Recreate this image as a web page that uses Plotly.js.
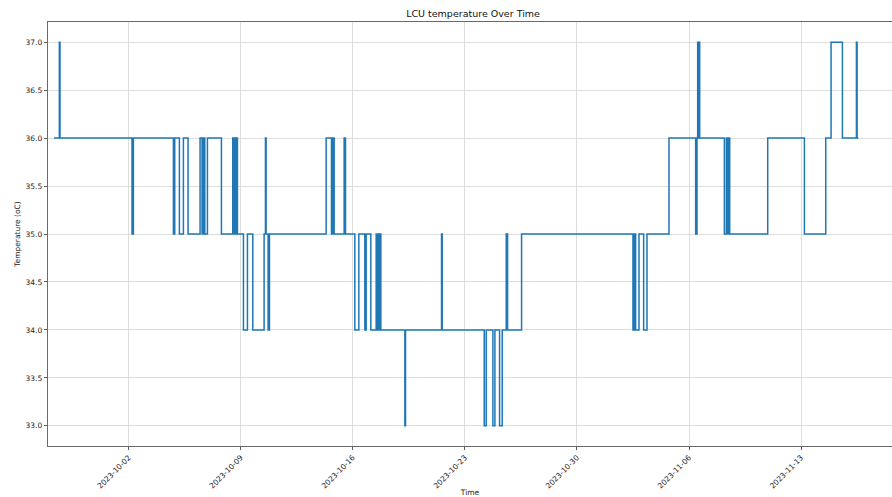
<!DOCTYPE html>
<html>
<head>
<meta charset="utf-8">
<script src="https://cdn.plot.ly/plotly-3.0.1.min.js"></script>
<style>html,body{margin:0;padding:0;background:#fff;}#chart{width:892px;height:497px;}</style>
</head>
<body>
<div id="chart"></div>
<script>
const times = [
'2023-09-27 08:00','2023-09-27 16:00','2023-09-27 17:00',
'2023-10-02 05:00','2023-10-02 07:00',
'2023-10-04 19:00','2023-10-04 21:00','2023-10-05 04:00','2023-10-05 10:00','2023-10-05 17:00',
'2023-10-06 11:00','2023-10-06 14:00','2023-10-06 16:00','2023-10-06 18:00','2023-10-06 22:00',
'2023-10-07 19:00',
'2023-10-08 12:00','2023-10-08 13:00','2023-10-08 14:00','2023-10-08 15:00','2023-10-08 16:00','2023-10-08 17:00','2023-10-08 18:00','2023-10-08 19:00',
'2023-10-09 04:00','2023-10-09 10:00','2023-10-09 18:00',
'2023-10-10 11:00','2023-10-10 13:00','2023-10-10 14:00','2023-10-10 17:00','2023-10-10 19:00',
'2023-10-14 08:00','2023-10-14 16:00','2023-10-14 17:00','2023-10-14 18:00','2023-10-14 19:00','2023-10-14 20:00',
'2023-10-15 11:00','2023-10-15 13:00',
'2023-10-16 03:00','2023-10-16 09:00','2023-10-16 18:00','2023-10-16 20:00',
'2023-10-17 03:00','2023-10-17 11:00','2023-10-17 12:00','2023-10-17 13:00','2023-10-17 14:00','2023-10-17 15:00','2023-10-17 16:00','2023-10-17 17:00','2023-10-17 18:00',
'2023-10-19 06:00','2023-10-19 07:00',
'2023-10-21 13:00','2023-10-21 14:00',
'2023-10-24 05:00','2023-10-24 08:00','2023-10-24 18:00','2023-10-24 21:00',
'2023-10-25 04:00','2023-10-25 08:00','2023-10-25 14:00','2023-10-25 16:00',
'2023-10-26 13:00',
'2023-11-02 12:00','2023-11-02 13:00','2023-11-02 14:00','2023-11-02 15:00','2023-11-02 16:00','2023-11-02 21:00',
'2023-11-03 04:00','2023-11-03 09:00',
'2023-11-04 18:00',
'2023-11-06 10:00','2023-11-06 12:00','2023-11-06 13:00','2023-11-06 14:00','2023-11-06 15:00','2023-11-06 16:00',
'2023-11-08 05:00','2023-11-08 08:00','2023-11-08 09:00','2023-11-08 10:00','2023-11-08 11:00','2023-11-08 12:00','2023-11-08 13:00',
'2023-11-10 22:00',
'2023-11-13 05:00',
'2023-11-14 13:00','2023-11-14 21:00',
'2023-11-15 14:00',
'2023-11-16 11:00','2023-11-16 12:00','2023-11-16 14:00'
];
const temps = [
36,37,36,
35,36,
35,36,35,36,35,
36,35,36,35,36,
35,
36,35,36,35,36,35,36,35,
34,35,34,
35,36,35,34,35,
36,35,36,35,36,35,
36,35,
34,35,34,35,
34,35,34,35,34,35,34,35,34,
33,34,
35,34,
33,34,33,34,
33,34,35,34,
35,
34,35,34,35,34,35,
34,35,
36,
35,36,37,36,37,36,
35,36,35,36,35,36,35,
36,
35,
36,37,
36,
37,36,36
];
const xTickVals = ['2023-10-02','2023-10-09','2023-10-16','2023-10-23','2023-10-30','2023-11-06','2023-11-13'];
const yTickVals = [33.0,33.5,34.0,34.5,35.0,35.5,36.0,36.5,37.0];
const yTickText = ['33.0','33.5','34.0','34.5','35.0','35.5','36.0','36.5','37.0'];

const trace = {
  x: times, y: temps, type: 'scatter', mode: 'lines',
  line: {color: '#1f77b4', width: 1.5, shape: 'hv'},
  hoverinfo: 'skip'
};
const font = {family: 'DejaVu Sans, sans-serif', color: '#222'};
const layout = {
  width: 892, height: 497,
  margin: {l: 48, r: 0, t: 22, b: 51, pad: 0},
  paper_bgcolor: '#fff', plot_bgcolor: '#fff',
  showlegend: false,
  font: font,
  title: {text: 'LCU temperature Over Time', font: {family: 'DejaVu Sans, sans-serif', size: 9.5, color: '#111'},
          x: 0.5303, xref: 'container', xanchor: 'center', y: 0.972, yref: 'container', yanchor: 'middle'},
  xaxis: {
    type: 'date',
    range: ['2023-09-26 23:00', '2023-11-18 16:20'],
    tickvals: xTickVals,
    ticktext: xTickVals,
    tickangle: -45,
    tickfont: {family: 'DejaVu Sans, sans-serif', size: 7.5, color: '#222'},
    ticks: 'outside', ticklen: 3.5, tickwidth: 0.8, tickcolor: '#333',
    showgrid: true, gridcolor: '#d4d4d4', gridwidth: 0.8,
    showline: true, linecolor: '#444', linewidth: 0.8, mirror: true,
    zeroline: false,
    title: {text: 'Time', font: {family: 'DejaVu Sans, sans-serif', size: 7.5, color: '#222'}, standoff: 4},
    automargin: false
  },
  yaxis: {
    range: [32.79, 37.21],
    tickvals: yTickVals,
    ticktext: yTickText,
    tickfont: {family: 'DejaVu Sans, sans-serif', size: 7.5, color: '#222'},
    ticks: 'outside', ticklen: 3.5, tickwidth: 0.8, tickcolor: '#333',
    showgrid: true, gridcolor: '#d4d4d4', gridwidth: 0.8,
    showline: true, linecolor: '#444', linewidth: 0.8,
    zeroline: false,
    title: {text: 'Temperature (oC)', font: {family: 'DejaVu Sans, sans-serif', size: 7.5, color: '#222'}, standoff: 3},
    automargin: false
  }
};
Plotly.newPlot('chart', [trace], layout, {staticPlot: true, displayModeBar: false});
</script>
</body>
</html>
